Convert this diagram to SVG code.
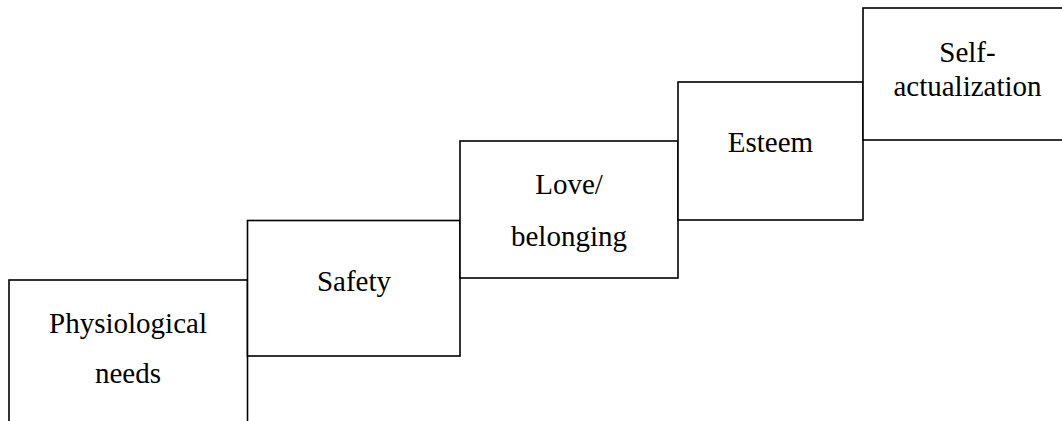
<svg xmlns="http://www.w3.org/2000/svg" width="1062" height="421" viewBox="0 0 1062 421">
<style>
.box{fill:#fff;stroke:#000;stroke-width:1.6}
text{font-family:'Liberation Serif','Tinos','DejaVu Serif',serif;font-size:29px;fill:#000;text-anchor:middle}
</style>
<rect width="1062" height="421" fill="#fff"/>
<g id="physiological">
<rect class="box" x="9" y="280" width="238.5" height="160"/>
<text x="128" y="333">Physiological</text>
<text x="128" y="383">needs</text>
</g>
<g id="safety">
<rect class="box" x="247.5" y="220.5" width="212.5" height="135.5"/>
<text x="354" y="291">Safety</text>
</g>
<g id="love">
<rect class="box" x="460" y="141" width="218" height="137"/>
<text x="569" y="194">Love/</text>
<text x="569" y="246">belonging</text>
</g>
<g id="esteem">
<rect class="box" x="678" y="82" width="185" height="138"/>
<text x="770.5" y="152">Esteem</text>
</g>
<g id="self">
<rect class="box" x="863" y="8" width="215" height="132"/>
<text x="967.5" y="62">Self-</text>
<text x="967.5" y="96">actualization</text>
</g>
<g id="connectors"></g>
</svg>
